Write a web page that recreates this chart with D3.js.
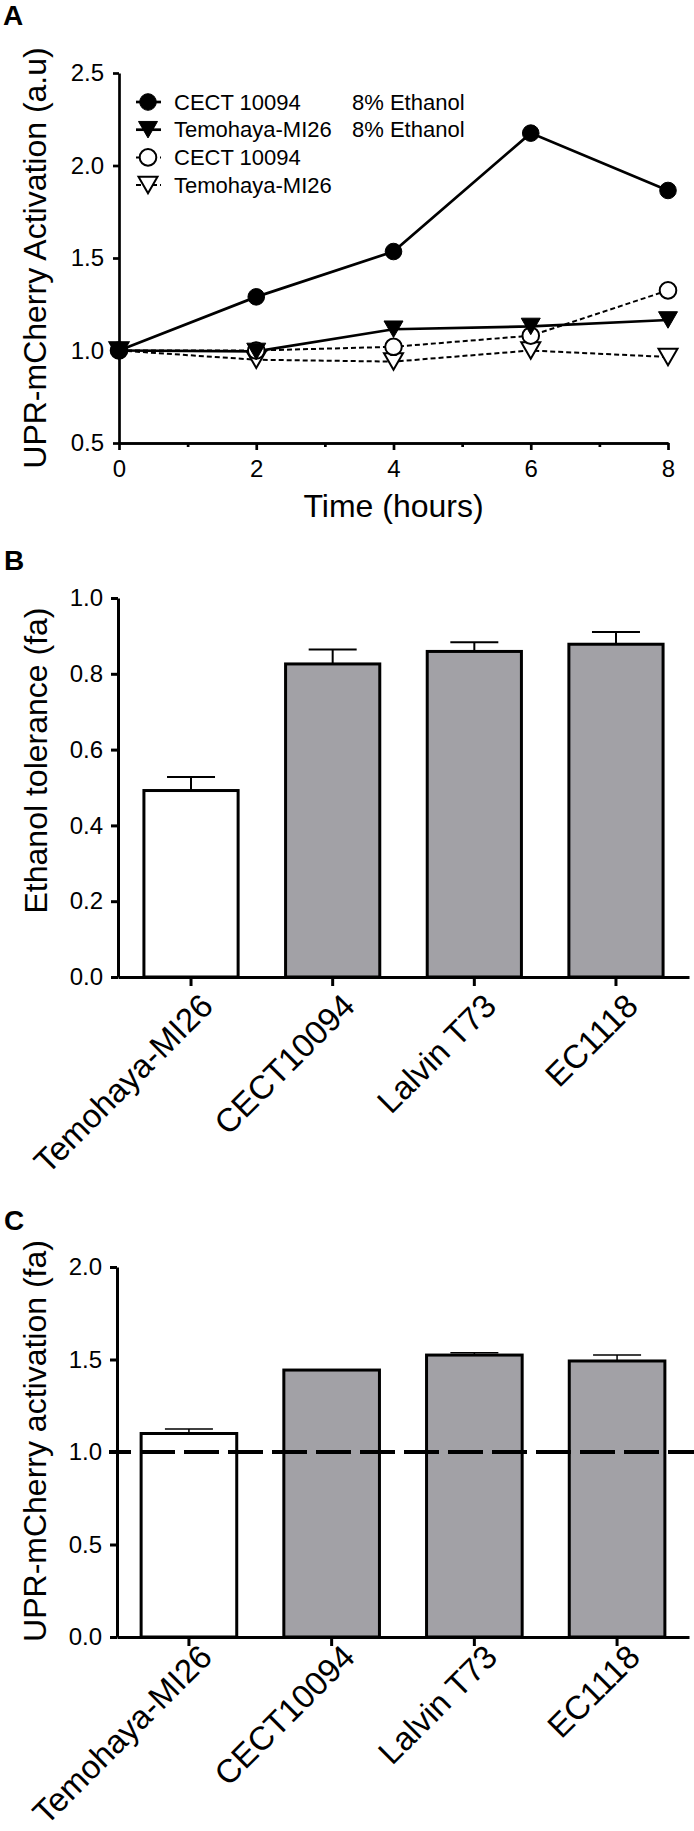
<!DOCTYPE html>
<html><head><meta charset="utf-8">
<script src="https://cdn.jsdelivr.net/npm/d3@7"></script>
<style>
html,body{margin:0;padding:0;background:#fff;}
svg{display:block;font-family:"Liberation Sans",Arial,Helvetica,sans-serif;}
</style></head><body>
<svg id="fig" width="694" height="1831"></svg>
<script>
// ---------- Panel A data ----------
const timeHours = [0, 2, 4, 6, 8];
const timeTicks = [0, 2, 4, 6, 8];
const timeMinorTicks = [1, 3, 5, 7];
const activationTicks = [0.5, 1.0, 1.5, 2.0, 2.5];
const cectEthanol = [1.0, 1.29, 1.535, 2.175, 1.865];
const temohayaEthanol = [1.0, 0.995, 1.115, 1.13, 1.165];
const cectControl = [1.0, 1.0, 1.02, 1.08, 1.325];
const temohayaControl = [1.0, 0.95, 0.94, 1.0, 0.965];
const seriesNames = ["CECT 10094", "Temohaya-MI26", "CECT 10094", "Temohaya-MI26"];
const seriesConditions = ["8% Ethanol", "8% Ethanol", "", ""];

// ---------- Panel B data ----------
const strains = ["Temohaya-MI26", "CECT10094", "Lalvin T73", "EC1118"];
const toleranceMean = [0.492, 0.826, 0.859, 0.878];
const toleranceUpper = [0.528, 0.864, 0.883, 0.910];
const toleranceTicks = [0.0, 0.2, 0.4, 0.6, 0.8, 1.0];

// ---------- Panel C data ----------
const upaMean = [1.10, 1.443, 1.524, 1.492];
const upaUpper = [1.125, 1.443, 1.537, 1.524];
const upaTicks = [0.0, 0.5, 1.0, 1.5, 2.0];
const referenceLevel = 1.0;

const barFills = ["#ffffff", "#a2a1a6", "#a2a1a6", "#a2a1a6"];

const svg = d3.select("#fig");
const fmt1 = d3.format(".1f");

function styleAxis(g, w, fs) {
  g.select(".domain").attr("stroke", "#000").attr("stroke-width", w);
  g.selectAll(".tick line").attr("stroke", "#000").attr("stroke-width", w);
  g.selectAll(".tick text").attr("fill", "#000").style("font-size", fs + "px")
    .style("font-family", '"Liberation Sans",Arial,sans-serif');
}

function panelLetter(t, x, y) {
  svg.append("text").attr("x", x).attr("y", y).text(t)
    .style("font-size", "28px").style("font-weight", "bold").attr("fill", "#000");
}

function yTitle(t, x, yc) {
  svg.append("text").attr("transform", `translate(${x},${yc}) rotate(-90)`)
    .attr("text-anchor", "middle").text(t).style("font-size", "32px").attr("fill", "#000");
}

// ================= Panel A =================
panelLetter("A", 3, 25);
const xA = d3.scaleLinear().domain([0, 8]).range([119, 668]);
const yA = d3.scaleLinear().domain([0.5, 2.5]).range([443, 73]);

const gAy = svg.append("g").attr("transform", `translate(${xA(0)},0)`)
  .call(d3.axisLeft(yA).tickValues(activationTicks).tickFormat(fmt1).tickSize(6).tickSizeOuter(0).tickPadding(9));
styleAxis(gAy, 2.7, 24);
const gAxm = svg.append("g").attr("transform", `translate(0,${yA(0.5)})`)
  .call(d3.axisBottom(xA).tickValues(timeMinorTicks).tickFormat("").tickSize(4).tickSizeOuter(0));
styleAxis(gAxm, 2.7, 24);
const gAx = svg.append("g").attr("transform", `translate(0,${yA(0.5)})`)
  .call(d3.axisBottom(xA).tickValues(timeTicks).tickFormat(d3.format("d")).tickSize(7).tickSizeOuter(0).tickPadding(10));
styleAxis(gAx, 2.7, 24);

yTitle("UPR-mCherry Activation (a.u)", 46, (yA(0.5) + yA(2.5)) / 2);
svg.append("text").attr("x", (xA(0) + xA(8)) / 2).attr("y", 517).attr("text-anchor", "middle")
  .text("Time (hours)").style("font-size", "32px").attr("fill", "#000");

const seriesA = [
  {values: cectEthanol, shape: "circle", filled: true, dashed: false},
  {values: temohayaEthanol, shape: "tri", filled: true, dashed: false},
  {values: cectControl, shape: "circle", filled: false, dashed: true},
  {values: temohayaControl, shape: "tri", filled: false, dashed: true}
];

function markerPath(shape) {
  if (shape === "circle") return d3.symbol(d3.symbolCircle, Math.PI * 8.3 * 8.3)();
  const w = 19, h = 16.5;
  return `M${-w/2},${-h/2}L${w/2},${-h/2}L0,${h/2}Z`;
}

const lineA = d3.line().x((d, i) => xA(timeHours[i])).y(d => yA(d));
// lines: dashed first, then solid
[2, 3, 1, 0].forEach(k => {
  const s = seriesA[k];
  svg.append("path").attr("d", lineA(s.values)).attr("fill", "none").attr("stroke", "#000")
    .attr("stroke-width", s.dashed ? 2 : 2.7)
    .attr("stroke-dasharray", s.dashed ? "5,3" : null);
});
[3, 2, 1, 0].forEach(k => {
  const s = seriesA[k];
  svg.append("g").selectAll("path").data(s.values).join("path")
    .attr("transform", (d, i) => `translate(${xA(timeHours[i])},${yA(d)})`)
    .attr("d", markerPath(s.shape))
    .attr("fill", s.filled ? "#000" : "#fff").attr("stroke", "#000")
    .attr("stroke-width", s.filled ? 1 : 2);
});

// legend
const legX = 148, legY0 = 102, legDy = 27.7;
seriesA.forEach((s, i) => {
  const cy = legY0 + i * legDy;
  svg.append("line").attr("x1", legX - 12).attr("x2", legX + 13).attr("y1", cy).attr("y2", cy)
    .attr("stroke", "#000").attr("stroke-width", s.dashed ? 2 : 2.7)
    .attr("stroke-dasharray", s.dashed ? "5,3" : null);
  svg.append("path").attr("transform", `translate(${legX},${cy})`).attr("d", markerPath(s.shape))
    .attr("fill", s.filled ? "#000" : "#fff").attr("stroke", "#000").attr("stroke-width", s.filled ? 1 : 2);
  svg.append("text").attr("x", 174).attr("y", cy).attr("dy", "0.35em").text(seriesNames[i])
    .style("font-size", "22px").attr("fill", "#000");
  if (seriesConditions[i]) {
    svg.append("text").attr("x", 352).attr("y", cy).attr("dy", "0.35em").text(seriesConditions[i])
      .style("font-size", "22px").attr("fill", "#000");
  }
});

// ================= Bar panels =================
function barPanel(opt) {
  const x = d3.scaleBand().domain(strains).range(opt.xr).paddingInner(opt.pi).paddingOuter(opt.po);
  const y = d3.scaleLinear().domain(opt.domain).range(opt.yr);
  const g = svg.append("g");
  // bars
  g.selectAll("rect.bar").data(opt.means).join("rect").attr("class", "bar")
    .attr("x", (d, i) => x(strains[i])).attr("width", x.bandwidth())
    .attr("y", d => y(d)).attr("height", d => y(0) - y(d))
    .attr("fill", (d, i) => barFills[i]).attr("stroke", "#000").attr("stroke-width", 3);
  // error bars (upper only)
  const cap = 48;
  opt.upper.forEach((u, i) => {
    if (u <= opt.means[i]) return;
    const cx = x(strains[i]) + x.bandwidth() / 2;
    g.append("line").attr("x1", cx).attr("x2", cx).attr("y1", y(opt.means[i])).attr("y2", y(u))
      .attr("stroke", "#000").attr("stroke-width", opt.ew);
    g.append("line").attr("x1", cx - cap / 2).attr("x2", cx + cap / 2).attr("y1", y(u)).attr("y2", y(u))
      .attr("stroke", "#000").attr("stroke-width", opt.ew);
  });
  if (opt.refLine !== undefined) {
    svg.append("line").attr("x1", opt.xr[0] - 8).attr("x2", 694)
      .attr("y1", y(opt.refLine)).attr("y2", y(opt.refLine))
      .attr("stroke", "#000").attr("stroke-width", 4).attr("stroke-dasharray", "35,9")
      .attr("stroke-dashoffset", 13);
  }
  // axes
  const gy = svg.append("g").attr("transform", `translate(${opt.xr[0]},0)`)
    .call(d3.axisLeft(y).tickValues(opt.ticks).tickFormat(fmt1).tickSize(7).tickSizeOuter(0).tickPadding(8));
  styleAxis(gy, 3, 24);
  const gx = svg.append("g").attr("transform", `translate(0,${y(0)})`)
    .call(d3.axisBottom(x).tickSize(9).tickSizeOuter(0).tickFormat(""));
  styleAxis(gx, 3, 24);
  // rotated category labels
  strains.forEach(s => {
    const cx = x(s) + x.bandwidth() / 2;
    svg.append("text")
      .attr("transform", `translate(${cx + opt.lblDx},${y(0) + opt.lblDy}) rotate(-45)`)
      .attr("text-anchor", "end").text(s).style("font-size", "33px").attr("fill", "#000");
  });
  yTitle(opt.title, opt.titleX, (opt.yr[0] + opt.yr[1]) / 2 + opt.titleShift);
}

// Panel B
panelLetter("B", 4, 570);
barPanel({
  xr: [118, 689], pi: 0.335, po: 0.183,
  domain: [0, 1], yr: [977, 598],
  means: toleranceMean, upper: toleranceUpper, ticks: toleranceTicks,
  ew: 2, lblDx: 24, lblDy: 31,
  title: "Ethanol tolerance (fa)", titleX: 47, titleShift: -27
});

// Panel C
panelLetter("C", 4, 1230);
barPanel({
  xr: [117, 689], pi: 0.33, po: 0.169,
  domain: [0, 2], yr: [1637, 1267],
  means: upaMean, upper: upaUpper, ticks: upaTicks,
  ew: 1.5, lblDx: 25, lblDy: 22, refLine: referenceLevel,
  title: "UPR-mCherry activation (fa)", titleX: 46, titleShift: -11
});
</script>
</body></html>
